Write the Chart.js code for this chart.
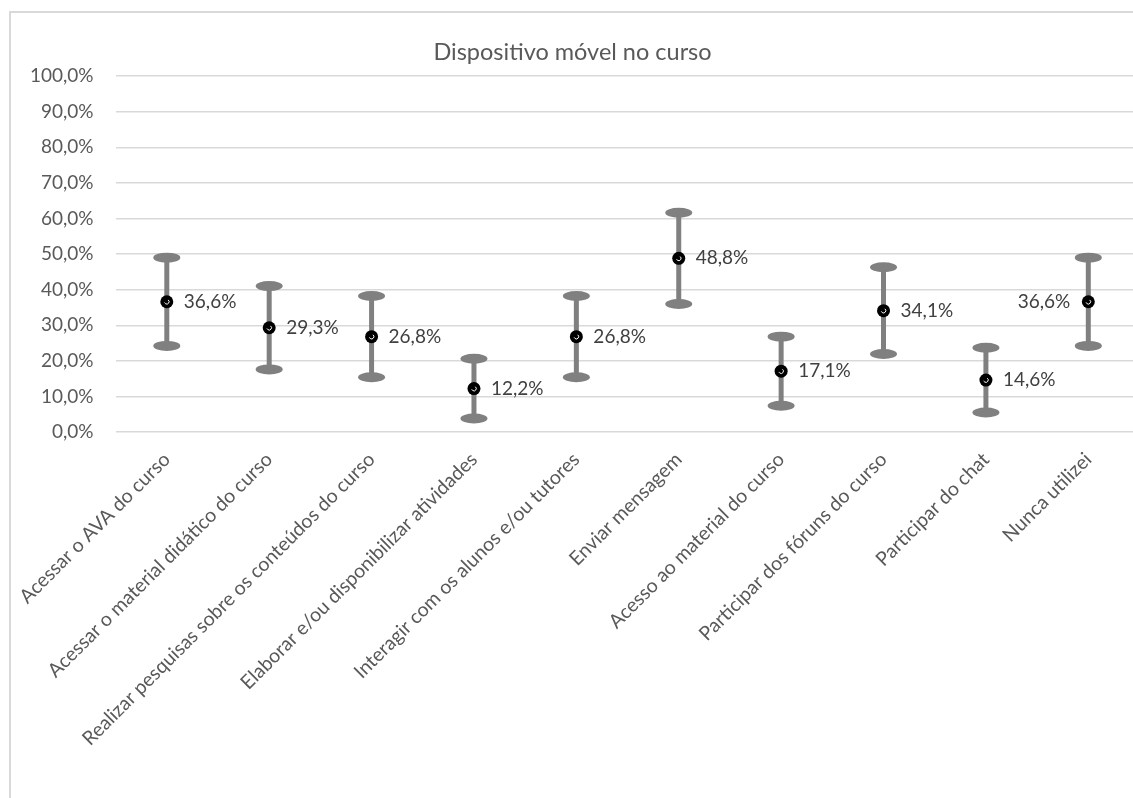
<!DOCTYPE html>
<html>
<head>
<meta charset="utf-8">
<script src="https://cdn.jsdelivr.net/npm/chart.js@4/dist/chart.umd.min.js"></script>
<style>
  body { margin: 0; overflow: hidden; background: #fff; }
  #moldura { position: absolute; left: 9px; top: 11px; width: 1300px; height: 900px;
             border-left: 2px solid #d9d9d9; border-top: 2px solid #d9d9d9; }
  #caixa { position: absolute; left: 0; top: 0; width: 1146px; height: 798px; }
</style>
</head>
<body>
<div id="moldura"></div>
<div id="caixa"><canvas id="grafico"></canvas></div>
<script>
// categorias e valores
const categorias = [
  'Acessar o AVA do curso',
  'Acessar o material didático do curso',
  'Realizar pesquisas sobre os conteúdos do curso',
  'Elaborar e/ou disponibilizar atividades',
  'Interagir com os alunos e/ou tutores',
  'Enviar mensagem',
  'Acesso ao material do curso',
  'Participar dos fóruns do curso',
  'Participar do chat',
  'Nunca utilizei'
];
const valores = [36.6, 29.3, 26.8, 12.2, 26.8, 48.8, 17.1, 34.1, 14.6, 36.6];
// limites das barras de erro (estimados da imagem)
const limiteInferior = [24.2, 17.6, 15.4, 3.8, 15.4, 36.0, 7.4, 21.9, 5.5, 24.2];
const limiteSuperior = [49.0, 41.0, 38.2, 20.6, 38.2, 61.6, 26.8, 46.3, 23.7, 49.0];
const ticksY = [0, 10, 20, 30, 40, 50, 60, 70, 80, 90, 100];
const ladoRotulo = ['r', 'r', 'r', 'r', 'r', 'r', 'r', 'r', 'r', 'l'];

const fonte = 'Lato, "Open Sans", sans-serif';
const fmt = (v) => v.toFixed(1).replace('.', ',') + '%';

// barras de erro desenhadas antes dos pontos
const barrasErro = {
  id: 'barrasErro',
  beforeDatasetsDraw(chart) {
    const ctx = chart.ctx;
    const x = chart.scales.x, y = chart.scales.y;
    ctx.save();
    ctx.strokeStyle = '#808080';
    ctx.fillStyle = '#808080';
    ctx.lineWidth = 5;
    for (let i = 0; i < valores.length; i++) {
      const px = x.getPixelForValue(i);
      const yb = y.getPixelForValue(limiteInferior[i]);
      const yt = y.getPixelForValue(limiteSuperior[i]);
      ctx.beginPath();
      ctx.moveTo(px, yb);
      ctx.lineTo(px, yt);
      ctx.stroke();
      [yb, yt].forEach((yy) => {
        ctx.beginPath();
        ctx.ellipse(px, yy, 13.5, 5, 0, 0, Math.PI * 2);
        ctx.fill();
      });
    }
    ctx.restore();
  },
  afterDatasetsDraw(chart) {
    const ctx = chart.ctx;
    const meta = chart.getDatasetMeta(0);
    ctx.save();
    // pequeno detalhe branco do marcador
    ctx.strokeStyle = '#fff';
    ctx.lineWidth = 1;
    meta.data.forEach((p) => {
      ctx.beginPath();
      ctx.arc(p.x, p.y, 2.3, -0.3 * Math.PI, 0.9 * Math.PI);
      ctx.stroke();
    });
    // rotulos de dados
    ctx.fillStyle = '#404040';
    ctx.font = '19px ' + fonte;
    ctx.textBaseline = 'middle';
    meta.data.forEach((p, i) => {
      if (ladoRotulo[i] === 'l') {
        ctx.textAlign = 'right';
        ctx.fillText(fmt(valores[i]), p.x - 18, p.y);
      } else {
        ctx.textAlign = 'left';
        ctx.fillText(fmt(valores[i]), p.x + 17, p.y);
      }
    });
    ctx.restore();
  }
};

const ctx = document.getElementById('grafico').getContext('2d');
new Chart(ctx, {
  type: 'line',
  data: {
    labels: categorias,
    datasets: [{
      data: valores,
      showLine: false,
      pointRadius: 6.5,
      pointHoverRadius: 6.5,
      pointBackgroundColor: '#000',
      pointBorderColor: '#000',
      pointBorderWidth: 0
    }]
  },
  options: {
    responsive: true,
    maintainAspectRatio: false,
    animation: false,
    layout: { padding: { left: 0, right: 1, top: 0, bottom: 0 } },
    plugins: {
      legend: { display: false },
      tooltip: { enabled: false },
      title: {
        display: true,
        text: 'Dispositivo móvel no curso',
        color: '#595959',
        font: { family: fonte, size: 23.5, weight: 'normal' },
        padding: { top: 38, bottom: 10 }
      }
    },
    scales: {
      x: {
        offset: true,
        grid: { display: false },
        border: { display: false },
        ticks: {
          color: '#595959',
          font: { family: fonte, size: 19.5 },
          minRotation: 45,
          maxRotation: 45,
          autoSkip: false,
          padding: 8
        },
        afterFit: (s) => { s.height = 366; }
      },
      y: {
        min: 0,
        max: 100,
        afterBuildTicks: (s) => { s.ticks = ticksY.map((v) => ({ value: v })); },
        grid: { color: '#d9d9d9', lineWidth: 1.5, drawTicks: false },
        border: { display: false },
        ticks: {
          color: '#595959',
          font: { family: fonte, size: 19 },
          padding: 22,
          callback: (v) => fmt(v)
        },
        afterFit: (s) => { s.width = 115.6; }
      }
    }
  },
  plugins: [barrasErro]
});
</script>
</body>
</html>
